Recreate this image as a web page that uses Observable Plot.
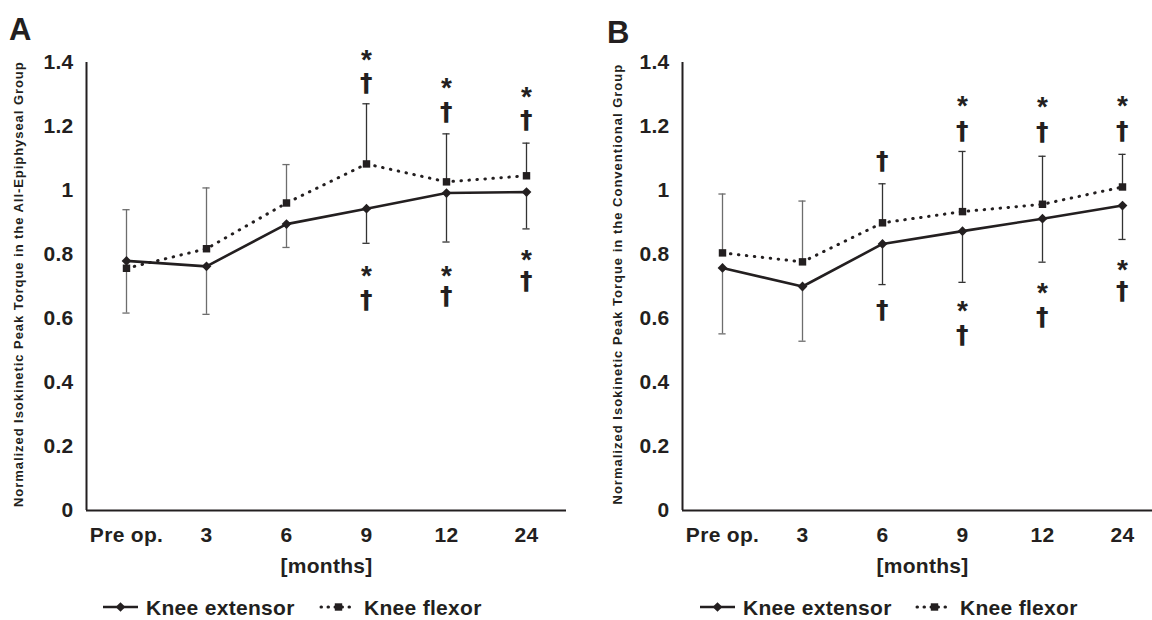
<!DOCTYPE html>
<html>
<head>
<meta charset="utf-8">
<script src="https://cdn.jsdelivr.net/npm/d3@7"></script>
<script src="https://cdn.jsdelivr.net/npm/@observablehq/plot@0.6"></script>
<style>
  body { margin: 0; background: #fff; }
  #wrap { position: relative; width: 1152px; height: 620px; overflow: hidden; background: #fff; }
  .panel { position: absolute; top: 0; width: 576px; height: 580px; }
  #overlay { position: absolute; left: 0; top: 0; width: 1152px; height: 620px; pointer-events: none; }
  #overlay text { font-family: "Liberation Sans", Arial, sans-serif; font-weight: bold; fill: #231f20; }
</style>
</head>
<body>
<div id="wrap">
  <div class="panel" id="panelA" style="left:0"></div>
  <div class="panel" id="panelB" style="left:576px"></div>
</div>
<script>
// ---------------- data ----------------
const months = ["Pre op.", "3", "6", "9", "12", "24"];
const yTicks = [0, 0.2, 0.4, 0.6, 0.8, 1, 1.2, 1.4];
const seriesNames = ["Knee extensor", "Knee flexor"];

// Panel A: All-Epiphyseal group
const extensorA   = [0.780, 0.763, 0.895, 0.943, 0.992, 0.995];
const extensorSDA = [0.163, 0.150, 0.073, 0.108, 0.153, 0.115];
const flexorA     = [0.757, 0.818, 0.961, 1.083, 1.027, 1.046];
const flexorSDA   = [0.183, 0.190, 0.120, 0.188, 0.150, 0.102];
// [month index, position, symbol]
const marksAboveA = [[3, 1.427, "*"], [3, 1.338, "†"], [4, 1.338, "*"], [4, 1.250, "†"], [5, 1.312, "*"], [5, 1.224, "†"]];
const marksBelowA = [[3, 0.752, "*"], [3, 0.661, "†"], [4, 0.752, "*"], [4, 0.672, "†"], [5, 0.802, "*"], [5, 0.719, "†"]];

// Panel B: Conventional group
const extensorB   = [0.758, 0.700, 0.833, 0.873, 0.912, 0.953];
const extensorSDB = [0.206, 0.171, 0.127, 0.160, 0.136, 0.106];
const flexorB     = [0.805, 0.777, 0.899, 0.934, 0.957, 1.011];
const flexorSDB   = [0.184, 0.190, 0.122, 0.188, 0.150, 0.102];
const marksAboveB = [[2, 1.096, "†"], [3, 1.283, "*"], [3, 1.188, "†"], [4, 1.279, "*"], [4, 1.185, "†"], [5, 1.283, "*"], [5, 1.188, "†"]];
const marksBelowB = [[2, 0.630, "†"], [3, 0.641, "*"], [3, 0.552, "†"], [4, 0.698, "*"], [4, 0.609, "†"], [5, 0.769, "*"], [5, 0.688, "†"]];

const titleA = "Normalized Isokinetic Peak Torque in the All-Epiphyseal Group";
const titleB = "Normalized Isokinetic Peak Torque in the Conventional Group";
const xTitle = "[months]";

// ---------------- drawing ----------------
const ink = "#231f20";
const font = "'Liberation Sans', Arial, sans-serif";
const daggerFont = "'DejaVu Sans', 'Liberation Sans', sans-serif";

function drawPanel(cfg) {
  const rows = [];
  months.forEach((m, i) => {
    rows.push({i, series: seriesNames[0], v: cfg.ext[i], end: cfg.ext[i] - cfg.extSD[i]});
    rows.push({i, series: seriesNames[1], v: cfg.flex[i], end: cfg.flex[i] + cfg.flexSD[i]});
  });
  const ext = rows.filter(d => d.series === seriesNames[0]);
  const flex = rows.filter(d => d.series === seriesNames[1]);
  const ann = cfg.annot.map(([i, v, s]) => ({i, v, s}));
  const capHalf = 0.045;
  const barColor = d => (d.i < cfg.grayBars ? "#6d6d6d" : "#333");

  const svg = Plot.plot({
    width: 576,
    height: 580,
    marginLeft: cfg.ml,
    marginRight: cfg.mr,
    marginTop: 62,
    marginBottom: 70,
    x: {type: "linear", domain: [-0.5, 5.5], range: cfg.xRange},
    y: {type: "linear", domain: [0, 1.4]},
    style: {fontFamily: font, fontWeight: "bold", fontSize: "21px", letterSpacing: "0.3px", color: ink, background: "transparent", overflow: "visible"},
    marks: [
      Plot.ruleX(rows, {x: "i", y1: "v", y2: "end", stroke: barColor, strokeWidth: 1.3}),
      Plot.ruleY(rows, {y: "end", x1: d => d.i - capHalf, x2: d => d.i + capHalf, stroke: barColor, strokeWidth: 1.3}),
      Plot.line(flex, {x: "i", y: "v", stroke: ink, strokeWidth: 3, strokeDasharray: "0.5 7.5", strokeLinecap: "round"}),
      Plot.line(ext, {x: "i", y: "v", stroke: ink, strokeWidth: 2.6}),
      Plot.dot(flex, {x: "i", y: "v", symbol: "square", r: 4.2, fill: ink}),
      Plot.dot(ext, {x: "i", y: "v", symbol: "diamond2", r: 4.4, fill: ink}),
      Plot.text(ann.filter(d => d.s === "*"), {x: "i", y: "v", text: "s", fontSize: 28, lineAnchor: "middle", dy: 6, fill: ink}),
      Plot.text(ann.filter(d => d.s !== "*"), {x: "i", y: "v", text: "s", fontFamily: daggerFont, fontSize: 25, lineAnchor: "middle", dy: 1, fill: ink}),
      Plot.ruleX([-0.5], {stroke: ink, strokeWidth: 2}),
      Plot.ruleY([0], {stroke: ink, strokeWidth: 2}),
      Plot.axisX({ticks: months.map((m, i) => i), tickFormat: i => months[i], tickSize: 0, tickPadding: 17, label: null, fill: ink}),
      Plot.axisY({ticks: yTicks, tickFormat: d => String(+d.toFixed(1)), tickSize: 0, tickPadding: 13, label: null, fill: ink}),
      Plot.text([cfg.title], {frameAnchor: "left", textAnchor: "middle", rotate: -90, dx: cfg.titleDx, dy: -2, fontSize: 13, letterSpacing: "0px", fill: ink}),
      Plot.text([xTitle], {frameAnchor: "bottom", dy: 62, dx: cfg.monthsDx, fontSize: 21, fill: ink})
    ]
  });
  // stretch the rotated axis title to the reference's length
  d3.select(svg).selectAll("text").filter(function () { return this.textContent === cfg.title; })
    .attr("textLength", cfg.titleLength).attr("lengthAdjust", "spacing");
  return svg;
}

document.getElementById("panelA").append(drawPanel({
  ext: extensorA, extSD: extensorSDA, flex: flexorA, flexSD: flexorSDA,
  annot: marksAboveA.concat(marksBelowA), title: titleA, titleLength: 445,
  ml: 86, mr: 10, xRange: [86, 566], titleDx: -68, monthsDx: 0, grayBars: 3
}));
document.getElementById("panelB").append(drawPanel({
  ext: extensorB, extSD: extensorSDB, flex: flexorB, flexSD: flexorSDB,
  annot: marksAboveB.concat(marksBelowB), title: titleB, titleLength: 440,
  ml: 106, mr: 0, xRange: [106, 586], titleDx: -65, monthsDx: 5, grayBars: 2
}));

// ---------------- panel letters and legends ----------------
const overlay = d3.select("#wrap").append("svg").attr("id", "overlay").attr("width", 1152).attr("height", 620);
overlay.append("text").attr("x", 9).attr("y", 40).attr("font-size", 31).text("A");
overlay.append("text").attr("x", 607).attr("y", 43).attr("font-size", 31).text("B");

function legend(x0, flexX0) {
  const g = overlay.append("g");
  const y = 607;
  g.append("line").attr("x1", x0).attr("x2", x0 + 35).attr("y1", y).attr("y2", y).attr("stroke", ink).attr("stroke-width", 2.6);
  g.append("path").attr("d", d3.symbol(d3.symbolDiamond2, 60)()).attr("transform", `translate(${x0 + 17.5},${y})`).attr("fill", ink);
  g.append("text").attr("x", x0 + 43).attr("y", y + 7.5).attr("font-size", 21).attr("letter-spacing", "0.3px").text(seriesNames[0]);
  g.append("line").attr("x1", flexX0).attr("x2", flexX0 + 35).attr("y1", y).attr("y2", y).attr("stroke", ink).attr("stroke-width", 3).attr("stroke-linecap", "round").attr("stroke-dasharray", "0.5 6.5");
  g.append("path").attr("d", d3.symbol(d3.symbolSquare, 55)()).attr("transform", `translate(${flexX0 + 17.5},${y})`).attr("fill", ink);
  g.append("text").attr("x", flexX0 + 43).attr("y", y + 7.5).attr("font-size", 21).attr("letter-spacing", "0.3px").text(seriesNames[1]);
}
legend(103, 321);
legend(700, 917);
</script>
</body>
</html>
